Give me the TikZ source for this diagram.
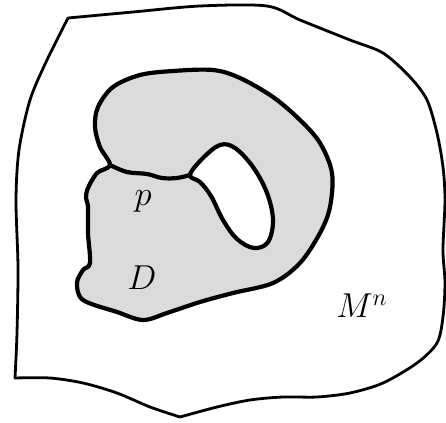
\documentclass[tikz,border=0pt]{standalone}
\usepackage{amsmath}
\usepackage{tikz}
\usetikzlibrary{positioning, calc}

\begin{document}
\begin{tikzpicture}[
        x=0.5pt, y=-0.5pt,
        manifold/.style={line width=1.4pt, line join=round, line cap=round},
        region/.style={line width=2.1pt, line join=round, fill=black!14},
        hole/.style={line width=2.1pt, line join=round, fill=white},
        crease/.style={line width=2.1pt, line cap=round},
        lbl/.style={font=\fontsize{18}{22}\selectfont}
    ]
        \useasboundingbox (0,0) rectangle (446,423);

        % Manifold corners
        \coordinate (tl) at (68,18);
        \coordinate (bl) at (15,378);
        \coordinate (bt) at (180,417);

        % Manifold
        \draw[manifold] plot[smooth, tension=0.5] coordinates {
            (bl) (17,333) (18,267) (16,200) (19,150) (30,100) (47,60) (tl)};
        \draw[manifold] plot[smooth, tension=0.5] coordinates {
            (tl) (133,12) (200,6) (267,6) (300,20) (350,40) (383,53)
            (410,77) (427,100) (437,133) (443,167) (445,200) (443,250)
            (445,283) (443,317) (437,343) (417,363) (383,383) (350,393)
            (317,397) (283,397) (250,400) (217,407) (bt)};
        \draw[manifold] plot[smooth, tension=0.5] coordinates {
            (bt) (150,407) (117,393) (83,383) (50,378) (bl)};

        % Region D
        \draw[region] plot[smooth cycle, tension=0.55] coordinates {
            (110,165) (100,147) (95,127) (98,107) (113,87) (140,75)
            (173,71) (213,70) (240,78) (273,97) (300,120) (320,143)
            (332,173) (330,207) (320,233) (300,263) (273,283) (233,293)
            (200,302) (167,313) (143,320) (117,312) (83,300) (77,283)
            (83,270) (90,263) (88,233) (88,207) (86,198) (88,188)
            (97,173)};

        % Hole
        \draw[hole] plot[smooth cycle, tension=0.6] coordinates {
            (190,175) (203,158) (220,145) (235,148) (253,167) (267,193)
            (273,220) (268,242) (254,248) (237,239) (223,220) (211,196)
            (200,182)};

        % Crease
        \coordinate (c1) at (110,165);
        \coordinate (c2) at (190,175);
        \draw[crease] plot[smooth, tension=0.6] coordinates {
            (c1) (127,172) (147,174) (162,178) (177,178) (c2)};

        % Labels
        \node[lbl] (p) at (143,201) {$p$};
        \node[lbl] (D) at (142,278) {$D$};
        \node[lbl] (M) at (362,306) {$M^n$};
    \end{tikzpicture}
\end{document}
